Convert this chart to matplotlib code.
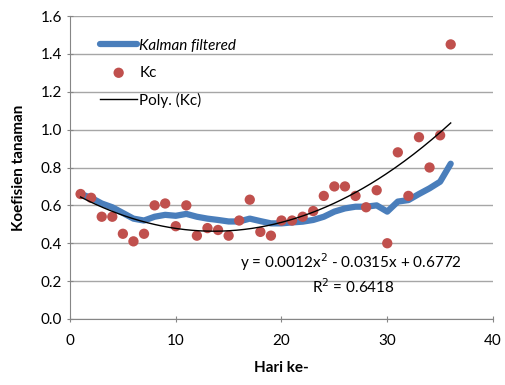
import numpy as np
from matplotlib import pyplot as plt

day = np.arange(1, 37)
kc = [0.66, 0.64, 0.54, 0.54, 0.45, 0.41, 0.45, 0.60, 0.61, 0.49,
      0.60, 0.44, 0.48, 0.47, 0.44, 0.52, 0.63, 0.46, 0.44, 0.52,
      0.52, 0.54, 0.57, 0.65, 0.70, 0.70, 0.65, 0.59, 0.68, 0.40,
      0.88, 0.65, 0.96, 0.80, 0.97, 1.45]
kalman = [0.66, 0.64, 0.61, 0.59, 0.56, 0.53, 0.52, 0.54, 0.55, 0.545,
          0.555, 0.54, 0.53, 0.523, 0.515, 0.515, 0.53, 0.517, 0.505, 0.505,
          0.51, 0.514, 0.523, 0.54, 0.567, 0.584, 0.593, 0.593, 0.60, 0.567,
          0.62, 0.628, 0.66, 0.69, 0.725, 0.82]

coef = np.polyfit(day, kc, 2)
xs = np.linspace(1, 36, 200)

plt.rcParams['font.family'] = ['Lato', 'DejaVu Sans']
fig = plt.figure(figsize=(5.06, 3.85), dpi=100)
ax = fig.add_axes([70 / 506, 1 - 319 / 385, 423 / 506, 303 / 385])

ax.plot(day, kalman, color="#4A7EBB", lw=4.5, solid_capstyle="round",
        solid_joinstyle="round", label="Kalman filtered", zorder=3)
ax.scatter(day, kc, s=55, color="#C0504D", edgecolors="none", label="Kc", zorder=4)
ax.plot(xs, np.polyval(coef, xs), color="black", lw=1, label="Poly. (Kc)", zorder=5)

ax.set_xlim(0, 40)
ax.set_ylim(0, 1.6)
ax.set_xticks(np.arange(0, 41, 10))
ax.set_yticks(np.arange(0, 1.61, 0.2))
ax.set_yticklabels([f"{v:.1f}" for v in np.arange(0, 1.61, 0.2)])
ax.yaxis.grid(True, color="#A6A6A6", lw=1)
ax.set_axisbelow(True)
for s in ["top", "right"]:
    ax.spines[s].set_visible(False)
for s in ["left", "bottom"]:
    ax.spines[s].set_color("#868686")
ax.tick_params(axis="both", colors="#868686", labelcolor="black", labelsize=11,
               length=5, direction="inout")
ax.tick_params(axis="x", pad=8)

ax.set_xlabel("Hari ke-", fontsize=11, fontweight="bold", labelpad=10)
ax.set_ylabel("Koefisien tanaman", fontsize=11, fontweight="bold", labelpad=10)

leg = ax.legend(loc="upper left", bbox_to_anchor=(0.05, 0.955), frameon=False,
                fontsize=11, handlelength=2.4, handletextpad=0.15,
                borderaxespad=0.2, labelspacing=0.85)
leg.get_texts()[0].set_style("italic")

ax.text(0.664, 0.188, "y = 0.0012x$^2$ - 0.0315x + 0.6772", transform=ax.transAxes,
        ha="center", va="center", fontsize=11)
ax.text(0.67, 0.106, "R$^2$ = 0.6418", transform=ax.transAxes,
        ha="center", va="center", fontsize=11)

fig.savefig("out.png", dpi=100)
